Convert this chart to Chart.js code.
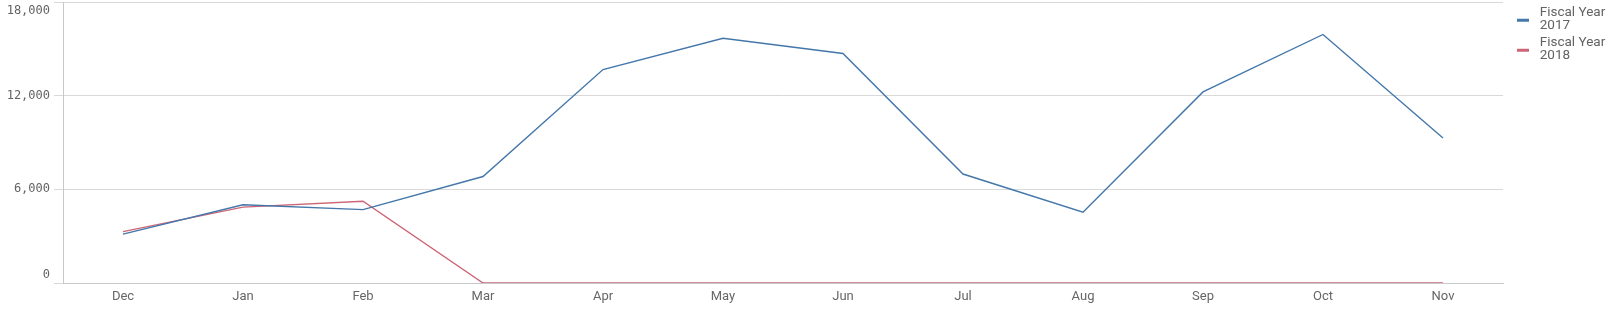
<!DOCTYPE html>
<html>
<head>
<meta charset="utf-8">
<script src="https://cdn.jsdelivr.net/npm/chart.js@4.4.1/dist/chart.umd.min.js"></script>
<style>
    html, body { margin: 0; padding: 0; background: #fff; }
    #wrap { width: 1618px; height: 318px; }
</style>
</head>
<body>
<div id="wrap"><canvas id="fy-line-chart" width="1618" height="318"></canvas></div>
<script>
const months = ['Dec', 'Jan', 'Feb', 'Mar', 'Apr', 'May', 'Jun', 'Jul', 'Aug', 'Sep', 'Oct', 'Nov'];
const fy2017 = [3130, 5010, 4700, 6820, 13670, 15680, 14700, 6980, 4540, 12240, 15920, 9290];
const fy2018 = [3290, 4860, 5240, 0, 0, 0, 0, 0, 0, 0, 0, 0];
const seriesNames = ['Fiscal Year 2017', 'Fiscal Year 2018'];
const yTicks = [0, 6000, 12000, 18000];

const blue = '#4477aa';
const red = '#cc6677';
const legendFontSize = 13.5;
const legendPad = 4;

// short line marker for the legend, drawn into a canvas and used as point style
function legendMarker(color) {
    const c = document.createElement('canvas');
    c.width = 26;
    c.height = 24;
    const g = c.getContext('2d');
    g.fillStyle = color;
    g.fillRect(10, 18, 12, 3);
    return c;
}

// legend width is padding + marker box + gap + text + 10, keep chart area ending at 1503
const mctx = document.createElement('canvas').getContext('2d');
mctx.font = legendFontSize + 'px Roboto';
const legendW = legendPad + 26 + legendFontSize / 2 + mctx.measureText('Fiscal Year').width + 10;
const padRight = Math.max(0, 1618 - 1503 - legendW);

// y labels the Qlik way: edge labels are pulled inside the axis
const yLabels = {
    id: 'yLabels',
    afterDraw(chart) {
        const s = chart.scales.y;
        const ctx = chart.ctx;
        ctx.save();
        ctx.font = '12px "DejaVu Sans Mono"';
        ctx.fillStyle = '#636363';
        ctx.textAlign = 'right';
        ctx.textBaseline = 'middle';
        s.ticks.forEach(t => {
            let py = s.getPixelForValue(t.value);
            py = Math.min(Math.max(py, s.top + 9), s.bottom - 8.5);
            ctx.fillText(t.value.toLocaleString('en-US'), s.right - 13, py);
        });
        ctx.restore();
    }
};

const data = {
    labels: months,
    datasets: [{
        label: seriesNames[0],
        data: fy2017,
        borderColor: blue,
        backgroundColor: blue,
        borderWidth: 1.4,
        pointRadius: 0,
        tension: 0
    }, {
        label: seriesNames[1],
        data: fy2018,
        borderColor: red,
        backgroundColor: red,
        borderWidth: 1.4,
        pointRadius: 0,
        tension: 0
    }]
};

const config = {
    type: 'line',
    data: data,
    plugins: [yLabels],
    options: {
        responsive: false,
        animation: false,
        layout: {
            padding: { top: 2, right: padRight, bottom: 0, left: 0 }
        },
        scales: {
            x: {
                offset: true,
                grid: { display: false, drawTicks: false },
                border: { color: '#c8c8c8' },
                ticks: {
                    color: '#666666',
                    font: { family: 'Roboto', size: 13 },
                    padding: 6,
                    maxRotation: 0,
                    autoSkip: false
                },
                afterFit: s => { s.height = 35; }
            },
            y: {
                min: 0,
                max: 18000,
                afterBuildTicks: s => { s.ticks = yTicks.map(v => ({ value: v })); },
                afterFit: s => { s.width = 63; },
                ticks: { display: false },
                grid: { color: '#d9d9d9', tickLength: 9 },
                border: { color: '#c8c8c8' }
            }
        },
        plugins: {
            tooltip: { enabled: false },
            legend: {
                position: 'right',
                align: 'start',
                labels: {
                    usePointStyle: true,
                    pointStyleWidth: 26,
                    padding: legendPad,
                    color: '#636363',
                    font: { family: 'Roboto', size: legendFontSize, lineHeight: '13px' },
                    generateLabels: chart => chart.data.datasets.map((ds, i) => ({
                        text: ds.label.split(/ (?=\d)/),
                        datasetIndex: i,
                        fillStyle: ds.borderColor,
                        strokeStyle: ds.borderColor,
                        lineWidth: 0,
                        hidden: false,
                        fontColor: '#636363',
                        pointStyle: legendMarker(ds.borderColor)
                    }))
                }
            }
        }
    }
};

var myChart = new Chart(
    document.getElementById('fy-line-chart'),
    config
);
</script>
</body>
</html>
